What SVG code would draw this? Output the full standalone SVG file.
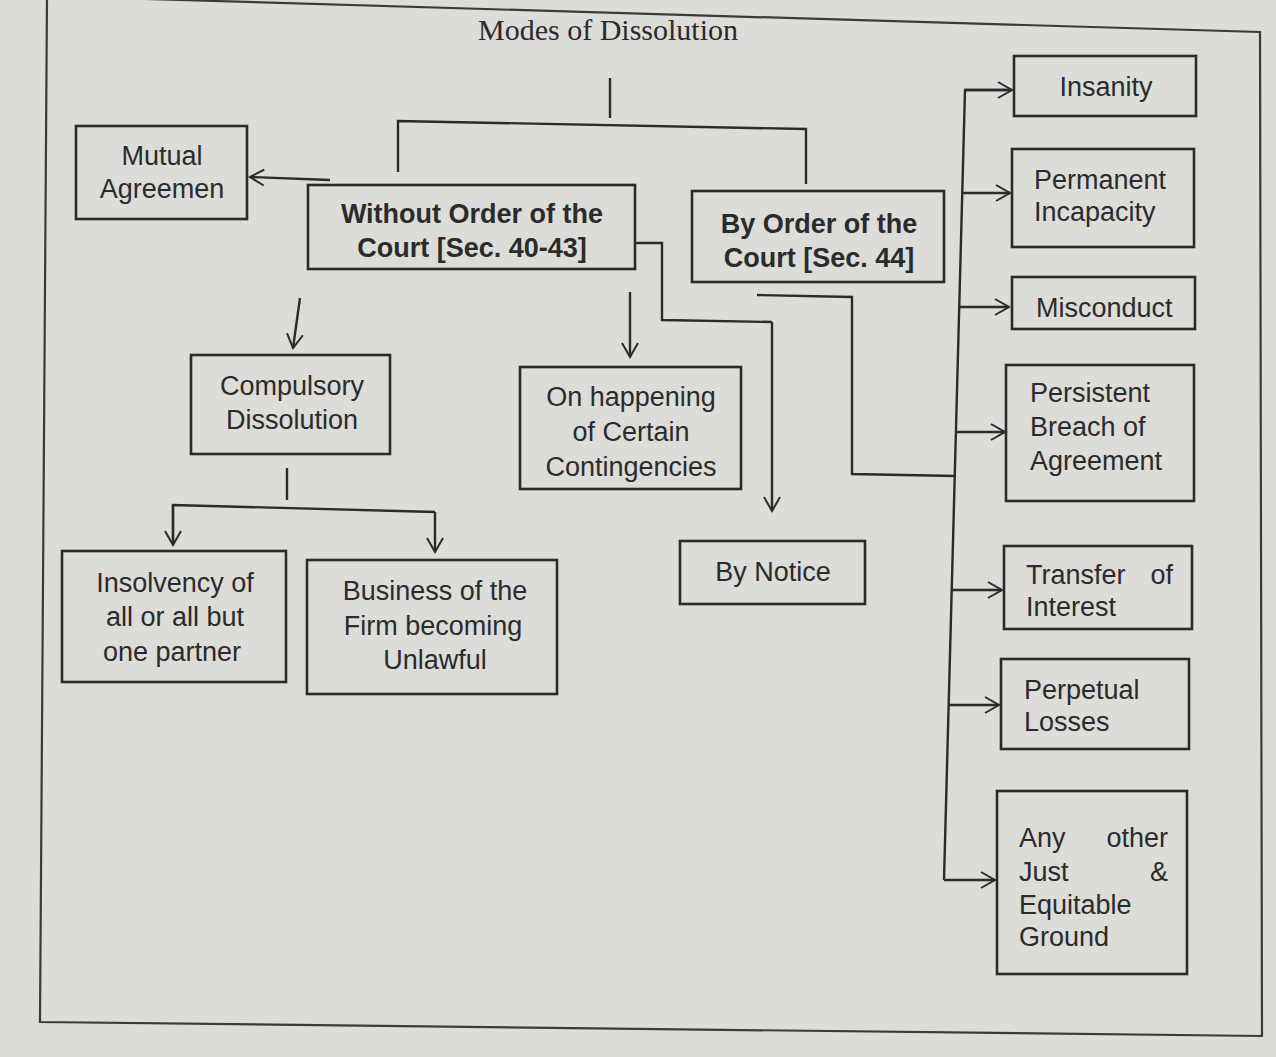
<svg xmlns="http://www.w3.org/2000/svg" width="1276" height="1057" viewBox="0 0 1276 1057">
<defs>
<marker id="ah" viewBox="0 0 20 20" refX="18" refY="10" markerWidth="20" markerHeight="20" markerUnits="userSpaceOnUse" orient="auto">
<path d="M4,2 L18,10 L4,18" fill="none" stroke="#2b2b2b" stroke-width="2"/>
</marker>
<style>
.bx{fill:none;stroke:#2b2b2b;stroke-width:2.6}
.t{font-family:"Liberation Sans",Arial,sans-serif;font-size:27px;fill:#2b2b2b}
.c{text-anchor:middle}
.b{font-weight:bold}
.ln{fill:none;stroke:#2b2b2b;stroke-width:2.4}
.ar{fill:none;stroke:#2b2b2b;stroke-width:2.4;marker-end:url(#ah)}
</style>
</defs>
<rect x="0" y="0" width="1276" height="1057" fill="#dcdcd8"/>
<polygon points="47,-4 1260,32 1262,1036 40,1022" fill="none" stroke="#3a3a3a" stroke-width="2.2"/>
<text x="608" y="40" font-family="Liberation Serif,Times New Roman,serif" font-size="30" fill="#2b2b2b" text-anchor="middle">Modes of Dissolution</text>

<g id="connectors">
<path class="ln" d="M610,78 V118"/>
<path class="ln" d="M398,172 V121 L806,129 V184"/>
<path class="ar" d="M330,180 L250,177"/>
<path class="ar" d="M300,298 L293,348"/>
<path class="ar" d="M630,292 V357"/>
<path class="ln" d="M636,243 H662 V320 L772,322"/>
<path class="ar" d="M772,322 V511"/>
<path class="ln" d="M287,468 V500"/>
<path class="ln" d="M173,543 V505 L435,512"/>
<path class="ar" d="M173,505 V545"/>
<path class="ar" d="M435,512 V552"/>
<path class="ln" d="M757,295 L852,297 V474 L956,476"/>
<path class="ln" d="M1010,90 H965 L944,880"/>
<path class="ar" d="M965,90 H1012"/>
<path class="ar" d="M962,193 H1010"/>
<path class="ar" d="M960,307 H1009"/>
<path class="ar" d="M956,432 H1005"/>
<path class="ar" d="M952,590 H1002"/>
<path class="ar" d="M948,705 H999"/>
<path class="ar" d="M944,880 H995"/>
</g>

<g id="mutual"><rect class="bx" x="76" y="126" width="171" height="93"/>
<text class="t c" x="162" y="165">Mutual</text><text class="t c" x="162" y="198">Agreemen</text></g>

<g id="without"><rect class="bx" x="308" y="185" width="327" height="84"/>
<text class="t c b" x="472" y="223">Without Order of the</text><text class="t c b" x="472" y="257">Court [Sec. 40-43]</text></g>

<g id="byorder"><rect class="bx" x="692" y="191" width="252" height="91"/>
<text class="t c b" x="819" y="233">By Order of the</text><text class="t c b" x="819" y="267">Court [Sec. 44]</text></g>

<g id="compulsory"><rect class="bx" x="191" y="355" width="199" height="99"/>
<text class="t c" x="292" y="395">Compulsory</text><text class="t c" x="292" y="429">Dissolution</text></g>

<g id="happening"><rect class="bx" x="520" y="367" width="221" height="122"/>
<text class="t c" x="631" y="406">On happening</text><text class="t c" x="631" y="441">of Certain</text><text class="t c" x="631" y="476">Contingencies</text></g>

<g id="insolvency"><rect class="bx" x="62" y="551" width="224" height="131"/>
<text class="t c" x="175" y="592">Insolvency of</text><text class="t c" x="175" y="626">all or all but</text><text class="t c" x="172" y="661">one partner</text></g>

<g id="business"><rect class="bx" x="307" y="560" width="250" height="134"/>
<text class="t c" x="435" y="600">Business of the</text><text class="t c" x="433" y="635">Firm becoming</text><text class="t c" x="435" y="669">Unlawful</text></g>

<g id="notice"><rect class="bx" x="680" y="541" width="185" height="63"/>
<text class="t c" x="773" y="581">By Notice</text></g>

<g id="insanity"><rect class="bx" x="1014" y="56" width="182" height="60"/>
<text class="t c" x="1106" y="96">Insanity</text></g>

<g id="permanent"><rect class="bx" x="1012" y="149" width="182" height="98"/>
<text class="t" x="1034" y="189">Permanent</text><text class="t" x="1034" y="221">Incapacity</text></g>

<g id="misconduct"><rect class="bx" x="1012" y="277" width="183" height="52"/>
<text class="t" x="1036" y="317">Misconduct</text></g>

<g id="persistent"><rect class="bx" x="1006" y="365" width="188" height="136"/>
<text class="t" x="1030" y="402">Persistent</text><text class="t" x="1030" y="436">Breach of</text><text class="t" x="1030" y="470">Agreement</text></g>

<g id="transfer"><rect class="bx" x="1004" y="546" width="188" height="83"/>
<text class="t" x="1026" y="584">Transfer</text><text class="t" x="1173" y="584" text-anchor="end">of</text><text class="t" x="1026" y="616">Interest</text></g>

<g id="perpetual"><rect class="bx" x="1001" y="659" width="188" height="90"/>
<text class="t" x="1024" y="699">Perpetual</text><text class="t" x="1024" y="731">Losses</text></g>

<g id="anyother"><rect class="bx" x="997" y="791" width="190" height="183"/>
<text class="t" x="1019" y="847">Any</text><text class="t" x="1168" y="847" text-anchor="end">other</text>
<text class="t" x="1019" y="881">Just</text><text class="t" x="1168" y="881" text-anchor="end">&amp;</text>
<text class="t" x="1019" y="914">Equitable</text><text class="t" x="1019" y="946">Ground</text></g>
</svg>
